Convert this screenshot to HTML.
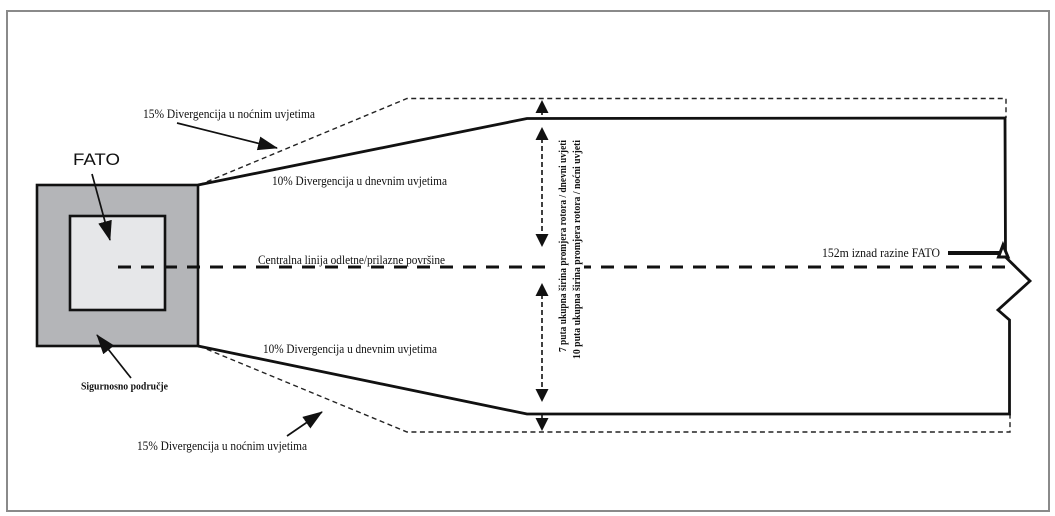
<!DOCTYPE html>
<html><head><meta charset="utf-8">
<style>
html,body{margin:0;padding:0;background:#fff;}
svg{display:block;}
text{font-family:"Liberation Serif",serif;fill:#111;}
</style></head>
<body>
<svg width="1055" height="516" viewBox="0 0 1055 516" xmlns="http://www.w3.org/2000/svg">
<defs>
<marker id="ah" viewBox="0 0 20 14" refX="19" refY="7" markerWidth="20" markerHeight="14" markerUnits="userSpaceOnUse" orient="auto">
<path d="M0,0 L20,7 L0,14 z" fill="#111"/>
</marker>
</defs>
<!-- frame -->
<rect x="7" y="11" width="1042" height="500" fill="#fff" stroke="#8a8a8a" stroke-width="2"/>

<!-- safety area -->
<rect x="37" y="185" width="161" height="161" fill="#b4b5b8" stroke="#111" stroke-width="2.6"/>
<rect x="70" y="216" width="95" height="94" fill="#e6e7e9" stroke="#111" stroke-width="2.6"/>

<!-- thin dashed 15% outline -->
<polyline points="199,185 407,98.5 1006,98.5 1006,118" fill="none" stroke="#222" stroke-width="1.4" stroke-dasharray="5,3.5"/>
<polyline points="199,346 407,432 1010,432 1010,414" fill="none" stroke="#222" stroke-width="1.4" stroke-dasharray="5,3.5"/>

<!-- solid 10% outline -->
<polyline points="198,185 527,118.5 1005,118 1005.5,257 1030,281 998,310 1009.5,320 1009.5,414 527,414 198,346" fill="none" stroke="#111" stroke-width="2.8" stroke-linejoin="miter"/>

<!-- centerline -->
<line x1="118" y1="267" x2="1012" y2="267" stroke="#111" stroke-width="3" stroke-dasharray="13,10"/>

<!-- vertical dimension arrows -->
<g stroke="#111" stroke-width="1.6" stroke-dasharray="5,3">
<line x1="542" y1="110" x2="542" y2="119"/>
<line x1="542" y1="138" x2="542" y2="236"/>
<line x1="542" y1="294" x2="542" y2="391"/>
<line x1="542" y1="415" x2="542" y2="420"/>
</g>
<g fill="#111">
<polygon points="542,100 535.5,113 548.5,113"/>
<polygon points="542,127 535.5,140 548.5,140"/>
<polygon points="542,247 535.5,234 548.5,234"/>
<polygon points="542,283 535.5,296 548.5,296"/>
<polygon points="542,402 535.5,389 548.5,389"/>
<polygon points="542,431 535.5,418 548.5,418"/>
</g>

<!-- rotated labels -->
<rect x="555" y="258" width="29" height="18" fill="#fff"/>
<text transform="translate(566,352) rotate(-90)" font-size="10" font-weight="bold" textLength="212" lengthAdjust="spacingAndGlyphs">7 puta ukupna širina promjera rotora / dnevni uvjeti</text>
<text transform="translate(580,359) rotate(-90)" font-size="10" font-weight="bold" textLength="219" lengthAdjust="spacingAndGlyphs">10 puta ukupna širina promjera rotora / noćni uvjeti</text>

<!-- 152m marker -->
<line x1="948" y1="253" x2="1000" y2="253" stroke="#111" stroke-width="4"/>
<polygon points="1003,245 998.5,257 1008,257" fill="#fff" stroke="#111" stroke-width="3" stroke-linejoin="miter"/>

<!-- arrows -->
<line x1="92" y1="174" x2="110" y2="240" stroke="#111" stroke-width="1.7" marker-end="url(#ah)"/>
<line x1="177" y1="123" x2="277" y2="148" stroke="#111" stroke-width="1.7" marker-end="url(#ah)"/>
<line x1="131" y1="378" x2="97" y2="335" stroke="#111" stroke-width="1.7" marker-end="url(#ah)"/>
<line x1="287" y1="436" x2="322" y2="412" stroke="#111" stroke-width="1.7" marker-end="url(#ah)"/>

<!-- labels -->
<text x="73" y="165" font-size="17" style="font-family:'Liberation Sans',sans-serif" textLength="47" lengthAdjust="spacingAndGlyphs">FATO</text>
<text x="143" y="118" font-size="12.5" textLength="172" lengthAdjust="spacingAndGlyphs">15% Divergencija u noćnim uvjetima</text>
<text x="272" y="185" font-size="12.5" textLength="175" lengthAdjust="spacingAndGlyphs">10% Divergencija u dnevnim uvjetima</text>
<text x="258" y="264" font-size="12.5" textLength="187" lengthAdjust="spacingAndGlyphs">Centralna linija odletne/prilazne površine</text>
<text x="263" y="353" font-size="12.5" textLength="174" lengthAdjust="spacingAndGlyphs">10% Divergencija u dnevnim uvjetima</text>
<text x="137" y="450" font-size="12.5" textLength="170" lengthAdjust="spacingAndGlyphs">15% Divergencija u noćnim uvjetima</text>
<text x="81" y="389.5" font-size="10" font-weight="bold" textLength="87" lengthAdjust="spacingAndGlyphs">Sigurnosno područje</text>
<text x="822" y="257" font-size="12.5" textLength="118" lengthAdjust="spacingAndGlyphs">152m iznad razine FATO</text>
</svg>
</body></html>
